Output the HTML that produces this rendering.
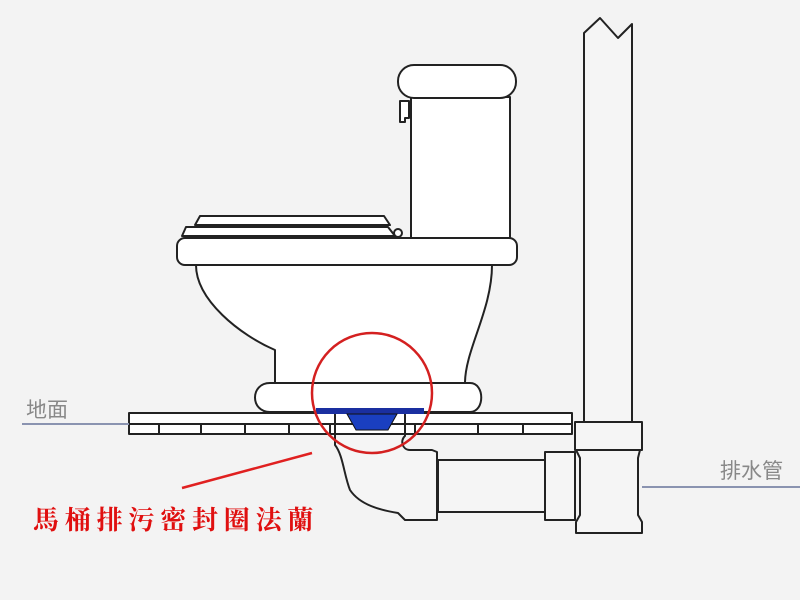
<!DOCTYPE html>
<html><head><meta charset="utf-8"><style>
html,body{margin:0;padding:0;background:#f3f3f3;}
svg{display:block;}
</style></head><body>
<svg width="800" height="600" viewBox="0 0 800 600" xmlns="http://www.w3.org/2000/svg">
<rect width="800" height="600" fill="#f3f3f3"/>
<g fill="#fff" stroke="#222" stroke-width="2" stroke-linejoin="round">
<path d="M584 422 V33 L600 18 L618 38 L632 24 V422" fill="#f5f5f5"/>
<rect x="575" y="422" width="67" height="28" fill="#f5f5f5"/>
<path d="M576 450 H640 L638 458 V515 L642 522 V533 H576 V522 L580 515 V458 Z" fill="#f5f5f5"/>
<rect x="545" y="452" width="30" height="68" fill="#f5f5f5"/>
<rect x="438" y="460" width="107" height="52" fill="#f5f5f5"/>
<path d="M335 434 V445 C343 455 344 475 350 490 C360 505 380 510 398 513 L405 520 H437 V452 L432 450 H410 C402 450 400 440 405 436 V434" fill="#f5f5f5"/>
<path d="M196 265 C196 300 240 335 275 350 L275 383 H465 C465 350 492 310 492 265 Z"/>
<path d="M270 383 H470 C485 383 485 412 470 412 H270 C250 412 250 383 270 383 Z"/>
<rect x="177" y="238" width="340" height="27" rx="8"/>
<rect x="411" y="97" width="99" height="141"/>
<rect x="398" y="65" width="118" height="33" rx="16"/>
<path d="M400 101 H409 V118 H405 V122 H400 Z"/>
<path d="M186 227 H388 L395 236 H182 Z"/>
<path d="M200 216 H384 L390 225 H195 Z"/>
<circle cx="398" cy="233" r="4"/>
<rect x="129" y="413" width="443" height="21"/>
</g>
<g stroke="#222" stroke-width="2">
<line x1="129" y1="424" x2="572" y2="424"/>
<line x1="159" y1="424" x2="159" y2="434"/><line x1="201" y1="424" x2="201" y2="434"/>
<line x1="245" y1="424" x2="245" y2="434"/><line x1="289" y1="424" x2="289" y2="434"/>
<line x1="330" y1="424" x2="330" y2="434"/><line x1="415" y1="424" x2="415" y2="434"/>
<line x1="478" y1="424" x2="478" y2="434"/><line x1="523" y1="424" x2="523" y2="434"/>
<line x1="335" y1="413" x2="335" y2="434"/><line x1="405" y1="413" x2="405" y2="434"/>
</g>
<rect x="316" y="408" width="108" height="6" fill="#1a2fa0"/>
<path d="M347 414 H397 L388 430 H356 Z" fill="#1a3fc0" stroke="#111" stroke-width="1"/>
<line x1="22" y1="424" x2="129" y2="424" stroke="#8a93b0" stroke-width="2"/>
<line x1="642" y1="487" x2="800" y2="487" stroke="#8a93b0" stroke-width="2"/>
<text x="26" y="417" font-family="Liberation Sans, Noto Sans CJK TC, sans-serif" font-size="21" fill="#888">地面</text>
<text x="720" y="478" font-family="Liberation Sans, Noto Sans CJK TC, sans-serif" font-size="21" fill="#888">排水管</text>
<circle cx="372" cy="393" r="60" fill="none" stroke="#d42020" stroke-width="2.5"/>
<line x1="312" y1="453" x2="182" y2="488" stroke="#e02020" stroke-width="2.5"/>
<text x="33" y="529" font-family="Noto Serif CJK SC, Noto Sans CJK TC, serif" font-size="26" font-weight="bold" letter-spacing="5.8" fill="#e01010">馬桶排污密封圈法蘭</text>
</svg>
</body></html>
